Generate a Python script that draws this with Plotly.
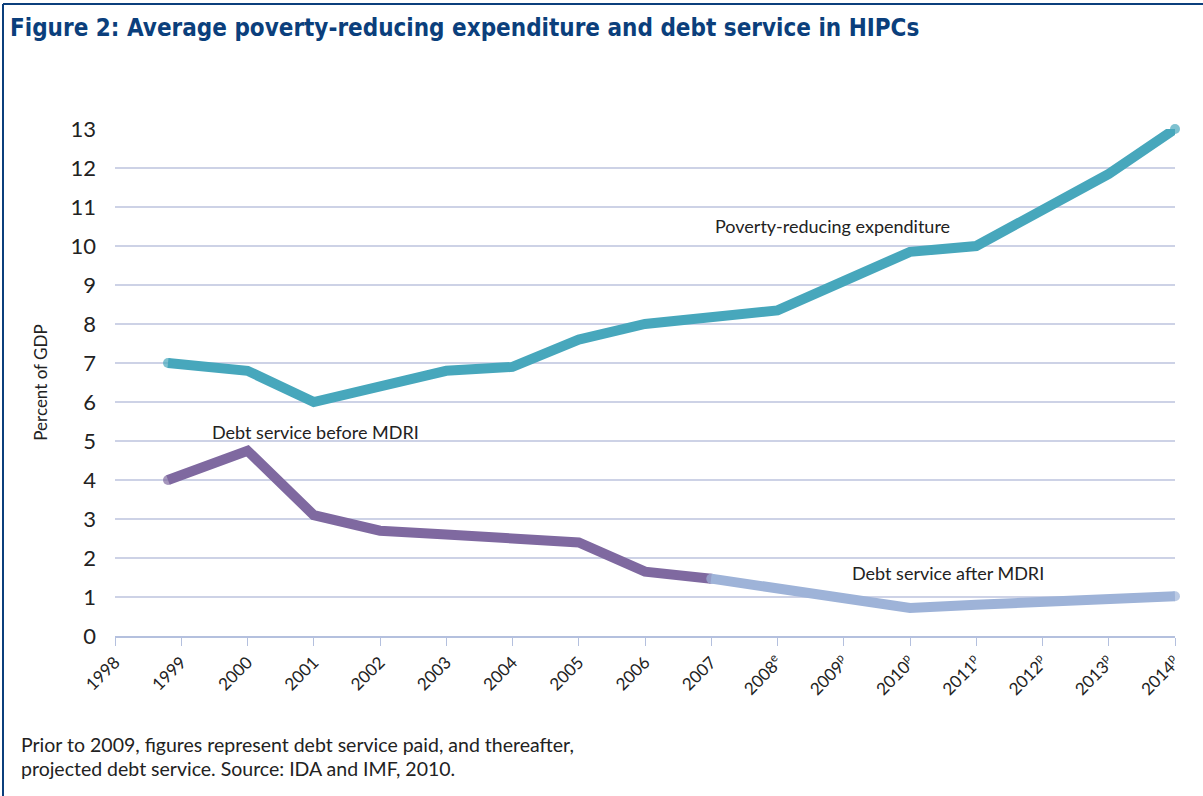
import plotly.graph_objects as go

# ---- data ----
years_pre = [1998.8, 2000, 2001, 2002, 2003, 2004, 2005, 2006, 2007, 2008, 2009, 2010, 2011, 2012, 2013, 2014]
poverty_exp = [7.0, 6.8, 6.0, 6.4, 6.8, 6.9, 7.6, 8.0, 8.15, 8.35, 9.1, 9.85, 10.0, 10.9, 11.85, 13.0]

years_before = [1998.8, 2000, 2001, 2002, 2003, 2004, 2005, 2006, 2007]
debt_before = [4.0, 4.75, 3.1, 2.7, 2.6, 2.5, 2.4, 1.65, 1.47]

years_after = [2007, 2008, 2009, 2010, 2011, 2012, 2013, 2014]
debt_after = [1.47, 1.2, 0.95, 0.72, 0.8, 0.88, 0.95, 1.02]

tick_years = list(range(1998, 2015))
tick_labels = ["1998", "1999", "2000", "2001", "2002", "2003", "2004", "2005", "2006", "2007",
               "2008<sup>e</sup>", "2009<sup>p</sup>", "2010<sup>p</sup>", "2011<sup>p</sup>",
               "2012<sup>p</sup>", "2013<sup>p</sup>", "2014<sup>p</sup>"]
y_ticks = list(range(0, 14))

# ---- layout constants ----
W, H = 1203, 796
ML, MR, MT, MB = 115, 28, 129, 160
PW, PH = W - ML - MR, H - MT - MB

def px2paper_x(px):
    return (px - ML) / PW

def px2paper_y(py):
    return (H - MB - py) / PH

TEAL = "#47A7BC"
PURPLE = "#7F69A0"
LIGHT = "#9EB3D8"
GRID = "#CDD2E6"
AXIS = "#B4C0DE"
NAVY = "#0B3F7C"
TXT = "#222222"
FONT = "Lato, 'Open Sans', sans-serif"

def caps(n):
    # round caps at both ends of a line (marker at first and last point only)
    return [10] + [0] * (n - 2) + [10]

fig = go.Figure()
for xs, ys, col, name in [
    (years_pre, poverty_exp, TEAL, "Poverty-reducing expenditure"),
    (years_before, debt_before, PURPLE, "Debt service before MDRI"),
    (years_after, debt_after, LIGHT, "Debt service after MDRI"),
]:
    fig.add_trace(go.Scatter(x=xs, y=ys, mode="lines+markers",
                             line=dict(color=col, width=10),
                             marker=dict(color=col, size=caps(len(xs)), line=dict(width=0)),
                             cliponaxis=False, name=name))

fig.update_layout(
    width=W, height=H,
    margin=dict(l=ML, r=MR, t=MT, b=MB),
    paper_bgcolor="white", plot_bgcolor="white",
    showlegend=False,
    font=dict(family=FONT, color=TXT),
    xaxis=dict(range=[1998, 2014], tickmode="array", tickvals=tick_years, ticktext=tick_labels,
               tickangle=-45, ticks="outside", ticklen=8, tickcolor=AXIS, tickwidth=1,
               showline=True, linecolor=AXIS, linewidth=1.5, showgrid=False, zeroline=False,
               tickfont=dict(size=17, color=TXT, family=FONT)),
    yaxis=dict(range=[0, 13], tickmode="array", tickvals=y_ticks, showgrid=True,
               gridcolor=GRID, gridwidth=1.5, zeroline=False, showline=False,
               ticklabelstandoff=18,
               tickfont=dict(size=22, color=TXT, family=FONT),
               title=dict(text="Percent of GDP", font=dict(size=17, color=TXT, family=FONT), standoff=18)),
)

annots = [
    dict(text="Poverty-reducing expenditure", x=832, y=226),
    dict(text="Debt service before MDRI", x=315, y=432),
    dict(text="Debt service after MDRI", x=948, y=573),
]
for a in annots:
    fig.add_annotation(text=a["text"], x=px2paper_x(a["x"]), y=px2paper_y(a["y"]),
                       xref="paper", yref="paper", showarrow=False,
                       font=dict(size=18, color=TXT, family=FONT),
                       xanchor="center", yanchor="middle")

# title
fig.add_annotation(text="<b>Figure 2: Average poverty-reducing expenditure and debt service in HIPCs</b>",
                   x=px2paper_x(8), y=px2paper_y(28), xref="paper", yref="paper",
                   showarrow=False, xanchor="left", yanchor="middle",
                   font=dict(size=24, color=NAVY,
                             family="'Liberation Sans Narrow', 'DejaVu Sans Condensed', Roboto, sans-serif"))

# footnote (two lines)
foot_lines = ["Prior to 2009, figures represent debt service paid, and thereafter,",
              "projected debt service. Source: IDA and IMF, 2010."]
for i, t in enumerate(foot_lines):
    fig.add_annotation(text=t, x=px2paper_x(19), y=px2paper_y(744 + 24 * i), xref="paper", yref="paper",
                       showarrow=False, xanchor="left", yanchor="middle", align="left",
                       font=dict(size=19.5, color=TXT, family=FONT))

# frame (top and left)
fig.add_shape(type="line", xref="paper", yref="paper",
              x0=px2paper_x(3), x1=px2paper_x(W), y0=px2paper_y(4), y1=px2paper_y(4),
              line=dict(color=NAVY, width=2))
fig.add_shape(type="line", xref="paper", yref="paper",
              x0=px2paper_x(3), x1=px2paper_x(3), y0=px2paper_y(4), y1=px2paper_y(H),
              line=dict(color=NAVY, width=2))

fig.write_html("out.html", config={"displayModeBar": False},
               post_script="document.body.style.margin='0';document.body.style.padding='0';")
